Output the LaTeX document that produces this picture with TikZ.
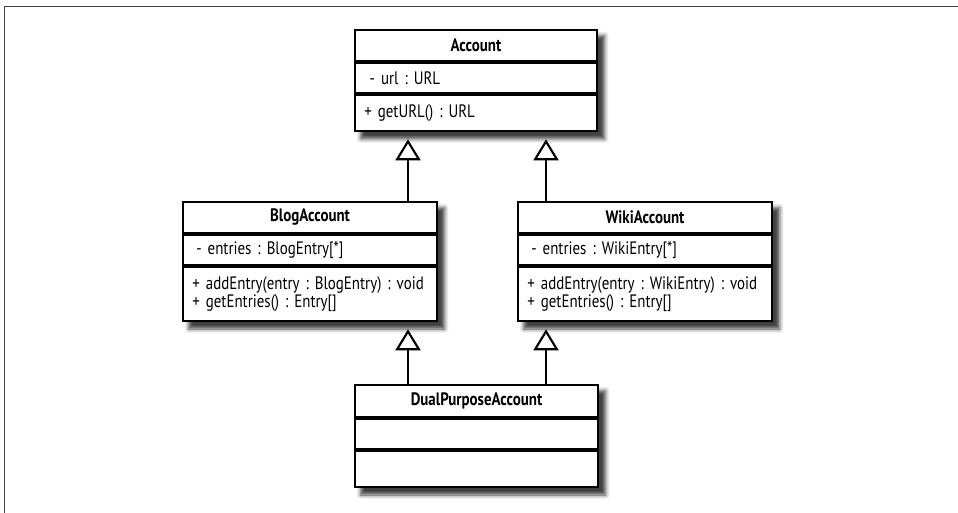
\documentclass[tikz,border=0pt]{standalone}
\usepackage{fontspec}
\setmainfont{PT Sans}[FakeStretch=0.83, WordSpace=0.75]
\usetikzlibrary{positioning,arrows.meta,fit,backgrounds,shadows.blur}

\tikzset{
	classhead/.style={draw, line width=1.6pt, fill=white, inner xsep=7pt, inner ysep=0pt,
		minimum height=23.25pt, text width=#1, align=center,
		font=\bfseries\fontsize{13.5}{13.5}\selectfont},
	classpart/.style={draw, line width=1.6pt, fill=white, inner xsep=7pt, inner ysep=2pt,
		minimum height=22.5pt, text width=#1, align=left,
		font=\frenchspacing\fontsize{13.5}{13.5}\selectfont},
	classshadow/.style={fill=white, inner sep=0pt,
		blur shadow={shadow xshift=5pt, shadow yshift=-5pt, shadow blur radius=3pt, shadow opacity=75}},
	generalization/.style={line width=1.6pt, shorten >=5.25pt,
		-{Triangle[open, width=18.75pt, length=15.75pt, line width=1.6pt]}}
}

\begin{document}
\begin{tikzpicture}[x=0.75pt,y=-0.75pt]
	\useasboundingbox (0,0) rectangle (958,513);
	
	% frame
	\draw[black!75, line width=1.2pt] (4.5,513) -- (4.5,6.5) -- (958,6.5);
	
	% Account
	\node[classhead=167.5pt] (acc-head) at (476,45.5) {Account};
	\node[classpart=167.5pt, below=0pt of acc-head] (acc-attr) {\hspace{4pt}- url : URL};
	\node[classpart=167.5pt, minimum height=27pt, below=0pt of acc-attr] (acc-ops) {+ getURL() : URL};
	
	% BlogAccount
	\node[classhead=176.5pt] (blog-head) at (310,217.5) {BlogAccount};
	\node[classpart=176.5pt, below=0pt of blog-head] (blog-attr) {\hspace{3pt}- entries : BlogEntry[*]};
	\node[classpart=176.5pt, minimum height=40.5pt, below=0pt of blog-attr] (blog-ops)
		{+ addEntry(entry : BlogEntry) : void\\+ getEntries() : Entry[]};
	
	% WikiAccount
	\node[classhead=176.5pt] (wiki-head) at (645,217.5) {WikiAccount};
	\node[classpart=176.5pt, below=0pt of wiki-head] (wiki-attr) {\hspace{3pt}- entries : WikiEntry[*]};
	\node[classpart=176.5pt, minimum height=40.5pt, below=0pt of wiki-attr] (wiki-ops)
		{+ addEntry(entry : WikiEntry) : void\\+ getEntries() : Entry[]};
	
	% DualPurposeAccount
	\node[classhead=168.25pt, minimum height=24pt] (dual-head) at (476.5,401) {DualPurposeAccount};
	\node[classpart=168.25pt, below=0pt of dual-head] (dual-attr) {};
	\node[classpart=168.25pt, minimum height=27pt, below=0pt of dual-attr] (dual-ops) {};
	
	% shadows
	\begin{scope}[on background layer]
		\node[classshadow, fit=(acc-head)(acc-ops)] (acc-box) {};
		\node[classshadow, fit=(blog-head)(blog-ops)] (blog-box) {};
		\node[classshadow, fit=(wiki-head)(wiki-ops)] (wiki-box) {};
		\node[classshadow, fit=(dual-head)(dual-ops)] (dual-box) {};
	\end{scope}
	
	% inheritance
	\coordinate (rail-l) at (408,0);
	\coordinate (rail-r) at (546,0);
	\draw[generalization] (blog-head.north -| rail-l) -- (acc-ops.south -| rail-l);
	\draw[generalization] (wiki-head.north -| rail-r) -- (acc-ops.south -| rail-r);
	\draw[generalization] (dual-head.north -| rail-l) -- (blog-ops.south -| rail-l);
	\draw[generalization] (dual-head.north -| rail-r) -- (wiki-ops.south -| rail-r);
	
\end{tikzpicture}
\end{document}
